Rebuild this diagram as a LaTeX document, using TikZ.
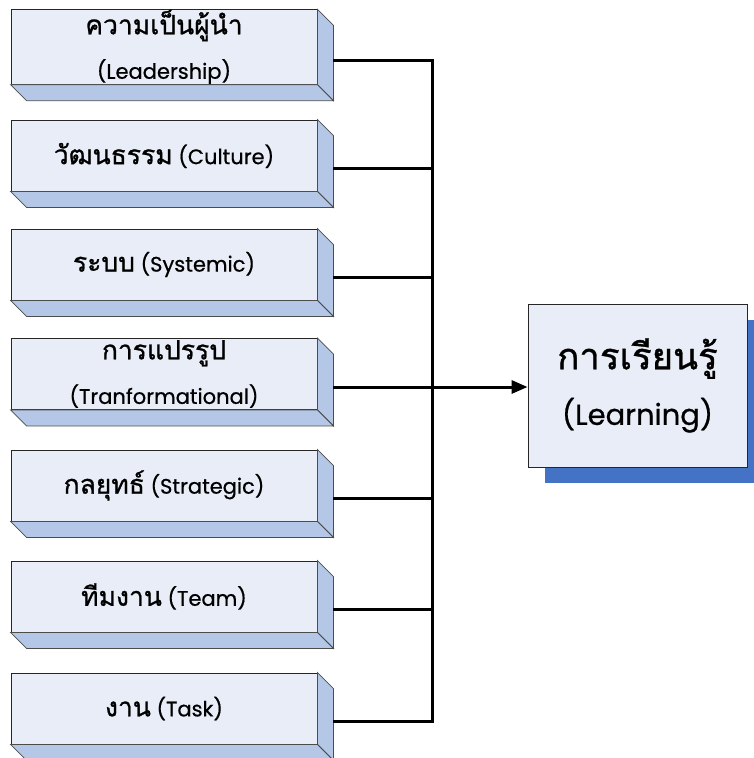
\documentclass[tikz,border=0pt]{standalone}
\usepackage{fontspec}
\setmainfont{Poppins}[FakeBold=0.6]
\newfontfamily\thai[Script=Thai,Scale=1.26,FakeBold=1.0]{Loma}
\usetikzlibrary{calc,arrows.meta,backgrounds}

\definecolor{facefront}{RGB}{232,237,247}
\definecolor{faceside}{RGB}{180,199,231}
\definecolor{shadowblue}{RGB}{68,114,196}

\tikzset{
  factor/.style={draw=black!85, line width=0.9pt, fill=facefront, minimum width=306pt,
    minimum height=71pt, inner sep=0pt, align=center, font=\fontsize{21}{25}\selectfont},
  sideface/.style={draw=black!70, line width=0.8pt, fill=faceside},
  outcome/.style={draw=black!85, line width=0.9pt, fill=facefront, minimum width=219pt,
    minimum height=163pt, inner sep=0pt, align=center, font=\fontsize{29}{34}\selectfont},
  link/.style={line width=3pt, line join=miter},
}

\begin{document}
\begin{tikzpicture}[x=1pt,y=-1pt,>={Triangle[length=16pt,width=13pt]}]
\useasboundingbox (0,0) rectangle (753,758);

% the seven factors on the left
\node[factor] (f1) at (164,47) {{\thai ความเป็นผู้นำ}\\[17pt](Leadership)};
\node[factor] (f2) at (164,155.5) {{\thai วัฒนธรรม} (Culture)};
\node[factor] (f3) at (164,264.5) {{\thai ระบบ} (Systemic)};
\node[factor] (f4) at (164,374) {{\thai การแปรรูป}\\[17pt](Tranformational)};
\node[factor] (f5) at (164,485.5) {{\thai กลยุทธ์} (Strategic)};
\node[factor] (f6) at (164,596.5) {{\thai ทีมงาน} (Team)};
\node[factor] (f7) at (164,708.5) {{\thai งาน} (Task)};

% box depth (right and bottom faces) + connector ends
\coordinate (bus) at (432,0);
\foreach \i in {1,...,7}{
  \draw[sideface] (f\i.north east) -- ++(16,16) -- ($(f\i.south east)+(16,16)$)
    -- (f\i.south east) -- cycle;
  \draw[sideface] (f\i.south west) -- ++(16,16) -- ($(f\i.south east)+(16,16)$)
    -- (f\i.south east) -- cycle;
  \coordinate (c\i) at ($(f\i.east)+(16,13)$);
  \coordinate (b\i) at (c\i -| bus);
}

% learning box with its shadow
\node[outcome] (learn) at (637.5,385.5) {{\thai การเรียนรู้}\\[18pt](Learning)};
\begin{scope}[on background layer]
  \fill[shadowblue] ($(learn.south west)+(17,16)$) rectangle ($(learn.north east)+(17,16)$);
\end{scope}

% connectors
\draw[link] (c1) -- (b1) -- (b7) -- (c7);
\foreach \i in {2,...,6}
  \draw[link] (c\i) -- (b\i);
\draw[link,->] (b4) -- (b4 -| learn.west);

\end{tikzpicture}
\end{document}
